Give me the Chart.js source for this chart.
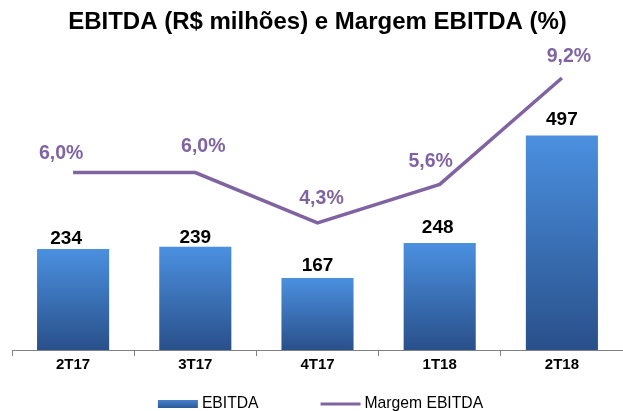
<!DOCTYPE html>
<html>
<head>
<meta charset="utf-8">
<script src="https://cdn.jsdelivr.net/npm/chart.js@4.4.1/dist/chart.umd.min.js"></script>
<style>
  html, body { margin: 0; padding: 0; background: #fff; }
  #wrap { width: 623px; height: 411px; }
</style>
</head>
<body>
<div id="wrap"><canvas id="ebitdaChart"></canvas></div>
<script>
// Dados do gráfico
const trimestres = ['2T17', '3T17', '4T17', '1T18', '2T18'];
const ebitda = [234, 239, 167, 248, 497];      // R$ milhões
const margemEbitda = [6.0, 6.0, 4.3, 5.6, 9.2]; // %

const FONTE = "'Liberation Sans', Arial, sans-serif";
const ROXO = '#8064a2';

// Gradiente de cada barra (claro em cima, escuro embaixo)
function gradienteBarra(context) {
    const chart = context.chart;
    if (!chart.chartArea) return '#3b6fb8';
    const y = chart.scales.y;
    const topo = y.getPixelForValue(context.raw);
    const base = y.getPixelForValue(0);
    const g = chart.ctx.createLinearGradient(0, topo, 0, base);
    g.addColorStop(0, '#4b90e0');
    g.addColorStop(1, '#29508a');
    return g;
}

// Rótulos de valor sobre barras e pontos
const rotulosPlugin = {
    id: 'rotulos',
    afterDatasetsDraw(chart, args, opts) {
        const ctx = chart.ctx;
        ctx.save();
        ctx.textAlign = 'center';
        ctx.textBaseline = 'middle';

        // barras
        ctx.font = 'bold 19px ' + FONTE;
        ctx.fillStyle = '#000';
        chart.getDatasetMeta(0).data.forEach((bar, i) => {
            const a = opts.ajustesBarras[i] || [0, -11];
            ctx.fillText(String(ebitda[i]), bar.x + a[0], bar.y + a[1]);
        });

        // linha
        ctx.font = 'bold 19.5px ' + FONTE;
        ctx.fillStyle = ROXO;
        chart.getDatasetMeta(1).data.forEach((pt, i) => {
            const a = opts.ajustesLinha[i] || [0, -22];
            const txt = margemEbitda[i].toFixed(1).replace('.', ',') + '%';
            ctx.fillText(txt, pt.x + a[0], pt.y + a[1]);
        });
        ctx.restore();
    }
};

// Legenda desenhada manualmente na parte de baixo
const legendaPlugin = {
    id: 'legenda',
    afterDraw(chart) {
        const ctx = chart.ctx;
        ctx.save();
        ctx.font = '15.7px ' + FONTE;
        ctx.textBaseline = 'middle';
        const y = 404;
        const sw = 40, gap = 62, txtGap = 4;
        const nomes = chart.data.datasets.map(d => d.label);
        const larg = nomes.map(n => ctx.measureText(n).width);
        const total = sw * 2 + txtGap * 2 + larg[0] + larg[1] + gap;
        const centro = (chart.chartArea.left + chart.chartArea.right) / 2 + 3;
        let x = centro - total / 2;

        // EBITDA
        const g = ctx.createLinearGradient(0, y - 4, 0, y + 4);
        g.addColorStop(0, '#4682cf');
        g.addColorStop(1, '#2e5a98');
        ctx.fillStyle = g;
        ctx.fillRect(x, y - 4, sw, 8);
        x += sw + txtGap;
        ctx.fillStyle = '#000';
        ctx.fillText(nomes[0], x, y);
        x += larg[0] + gap;

        // Margem EBITDA
        ctx.strokeStyle = ROXO;
        ctx.lineWidth = 3;
        ctx.beginPath();
        ctx.moveTo(x, y);
        ctx.lineTo(x + sw, y);
        ctx.stroke();
        x += sw + txtGap;
        ctx.fillStyle = '#000';
        ctx.fillText(nomes[1], x, y);
        ctx.restore();
    }
};

const ctx = document.getElementById('ebitdaChart').getContext('2d');

new Chart(ctx, {
    type: 'bar',
    data: {
        labels: trimestres,
        datasets: [
            {
                label: 'EBITDA',
                data: ebitda,
                backgroundColor: gradienteBarra,
                borderWidth: 0,
                barPercentage: 0.59,
                categoryPercentage: 1,
                yAxisID: 'y',
                order: 2
            },
            {
                type: 'line',
                label: 'Margem EBITDA',
                data: margemEbitda,
                borderColor: ROXO,
                borderWidth: 3.5,
                pointRadius: 0,
                tension: 0,
                yAxisID: 'y1',
                order: 1
            }
        ]
    },
    options: {
        responsive: true,
        maintainAspectRatio: false,
        animation: false,
        layout: {
            padding: { left: 12, right: 0, top: 8, bottom: 37 }
        },
        plugins: {
            legend: { display: false },
            tooltip: { enabled: false },
            title: {
                display: true,
                text: 'EBITDA (R$ milhões) e Margem EBITDA (%)',
                color: '#000',
                font: { family: FONTE, size: 24, weight: 'bold' },
                padding: { top: 0, bottom: 11 }
            },
            rotulos: {
                ajustesBarras: [[-7, -10], [0, -9], [0, -12], [-2, -15], [0, -16]],
                ajustesLinha: [[-12, -19], [8, -26], [4, -24], [-9, -23], [7, -21]]
            }
        },
        scales: {
            x: {
                grid: {
                    drawOnChartArea: false,
                    drawTicks: true,
                    tickLength: 6,
                    color: '#808080'
                },
                border: { color: '#808080', width: 1 },
                ticks: {
                    color: '#000',
                    padding: 0,
                    font: { family: FONTE, size: 15, weight: 'bold' }
                }
            },
            y: {
                display: false,
                min: 0,
                max: 700
            },
            y1: {
                display: false,
                min: 0,
                max: 10.22
            }
        }
    },
    plugins: [rotulosPlugin, legendaPlugin]
});
</script>
</body>
</html>
